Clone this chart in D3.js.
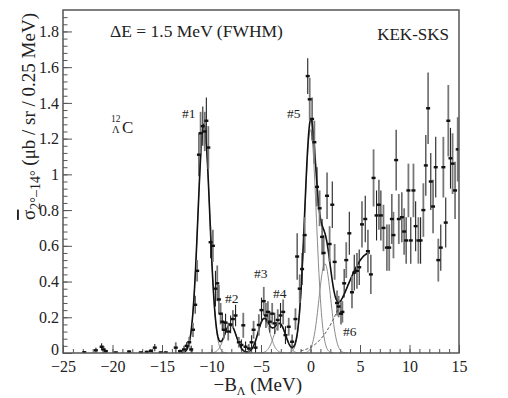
<!DOCTYPE html>
<html>
<head>
<meta charset="utf-8">
<script src="https://cdn.jsdelivr.net/npm/d3@7"></script>
<style>
  body { margin: 0; background: #fff; }
  svg text { font-family: "Liberation Serif", "Times New Roman", Times, serif !important; fill: #222; }
</style>
</head>
<body>
<script>
// -B_Lambda (MeV) of each data point
const energy = [
  -22.85, -21.68, -21.10, -20.90, -20.67, -19.66, -18.32, -17.14, -16.54, -16.13,
  -15.73, -15.13, -14.62, -13.61, -13.18, -12.78, -12.51, -12.25, -12.05, -11.87,
  -11.65, -11.45, -11.27, -11.10, -10.88, -10.68, -10.52, -10.32, -10.09, -9.86,
  -9.60, -9.42, -9.25, -9.08, -8.91, -8.75, -8.58, -8.31, -8.07, -7.84,
  -7.57, -7.24, -6.98, -6.79, -6.56, -6.23, -5.95, -5.75, -5.55, -5.22,
  -4.95, -4.72, -4.50, -4.30, -4.11, -3.87, -3.61, -3.31, -3.03, -2.76,
  -2.53, -2.20, -1.86, -1.52, -1.35, -1.09, -0.85, -0.59, -0.28, -0.08,
  0.16, 0.39, 0.66, 0.92, 1.17, 1.33, 1.67, 1.93, 2.20, 2.44,
  2.68, 2.84, 3.08, 3.22, 3.40, 3.61, 3.92, 4.19, 4.42, 4.69,
  4.92, 5.20, 5.53, 5.80, 6.10, 6.37, 6.67, 6.91, 7.11, 7.37,
  7.72, 7.95, 8.22, 8.38, 8.65, 8.92, 9.23, 9.46, 9.66, 9.89,
  10.13, 10.40, 10.62, 10.90, 11.12, 11.40, 11.65, 11.88, 12.15, 12.38,
  12.65, 12.91, 13.16, 13.42, 13.66, 13.92, 14.14, 14.35, 14.60, 14.87
]
// cross section (ub/sr/0.25 MeV)
const sigma = [
  0.004, 0.015, 0.035, 0.020, 0.010, 0.003, 0.008, 0.003, 0.006, 0.012,
  0.030, 0.003, 0.003, 0.030, 0.010, 0.020, 0.040, 0.060, 0.020, 0.130,
  0.27, 0.46, 1.11, 1.23, 1.27, 1.24, 1.30, 1.15, 0.62, 0.60,
  0.36, 0.39, 0.30, 0.22, 0.175, 0.13, 0.17, 0.12, 0.16, 0.19,
  0.21, 0.06, 0.045, 0.155, 0.035, 0.025, 0.06, 0.13, 0.03, 0.157,
  0.24, 0.29, 0.21, 0.23, 0.175, 0.22, 0.166, 0.185, 0.21, 0.23,
  0.10, 0.147, 0.063, 0.19, 0.54, 0.36, 0.47, 0.66, 1.55, 1.42,
  1.31, 1.18, 0.93, 0.81, 0.65, 0.56, 0.88, 0.61, 0.83, 0.51,
  0.28, 0.26, 0.22, 0.23, 0.39, 0.52, 0.67, 0.34, 0.45, 0.46,
  0.48, 0.72, 0.75, 0.57, 0.44, 0.98, 0.77, 0.83, 0.77, 0.70,
  0.59, 0.59, 0.75, 0.66, 1.08, 0.75, 0.76, 0.68, 0.63, 0.91,
  0.63, 0.91, 0.71, 0.63, 0.63, 0.80, 1.05, 1.37, 0.96, 0.82,
  1.04, 0.52, 0.59, 1.04, 0.73, 1.30, 1.09, 1.06, 0.91, 1.14
]
const sigmaErr = [
  0.006, 0.015, 0.020, 0.020, 0.010, 0.005, 0.008, 0.005, 0.006, 0.010,
  0.020, 0.005, 0.005, 0.030, 0.010, 0.020, 0.020, 0.030, 0.020, 0.040,
  0.05, 0.06, 0.12, 0.12, 0.11, 0.11, 0.13, 0.12, 0.09, 0.09,
  0.10, 0.10, 0.08, 0.06, 0.05, 0.05, 0.05, 0.05, 0.05, 0.05,
  0.06, 0.03, 0.03, 0.07, 0.03, 0.025, 0.04, 0.05, 0.03, 0.06,
  0.07, 0.08, 0.07, 0.06, 0.06, 0.06, 0.06, 0.06, 0.07, 0.07,
  0.05, 0.05, 0.04, 0.06, 0.13, 0.08, 0.09, 0.10, 0.10, 0.12,
  0.12, 0.12, 0.11, 0.10, 0.10, 0.10, 0.13, 0.10, 0.13, 0.10,
  0.07, 0.06, 0.06, 0.06, 0.08, 0.10, 0.12, 0.09, 0.10, 0.10,
  0.10, 0.13, 0.13, 0.12, 0.11, 0.16, 0.14, 0.14, 0.14, 0.13,
  0.13, 0.13, 0.14, 0.13, 0.17, 0.14, 0.14, 0.13, 0.13, 0.15,
  0.13, 0.15, 0.14, 0.13, 0.13, 0.15, 0.17, 0.20, 0.16, 0.15,
  0.17, 0.12, 0.13, 0.17, 0.14, 0.20, 0.17, 0.17, 0.16, 0.18
]

// fitted peaks (gaussians); the last one (#6) is the broad dashed one
const peakCenter = [-10.77, -8.1, -4.7, -3.1, 0.0, 1.45, 6.0]
const peakHeight = [1.28, 0.16, 0.19, 0.16, 1.25, 0.5, 0.56]
const peakFwhm = [1.4, 1.4, 1.4, 1.4, 1.4, 1.4, 5.9]
const fitRange = [-13, 6]

const xTicks = [-25, -20, -15, -10, -5, 0, 5, 10, 15]
const yTicks = [0, 0.2, 0.4, 0.6, 0.8, 1, 1.2, 1.4, 1.6, 1.8]

const serif = '"Liberation Serif", "Times New Roman", Times, serif'
const svg = d3.select('body').append('svg').attr('width', 508).attr('height', 398)
  .style('font-family', serif)
const plot = {left: 63, right: 459, top: 10, bottom: 353}

const x = d3.scaleLinear().domain([-25, 15]).range([plot.left, plot.right])
const y = d3.scaleLinear().domain([0, 1.92]).range([plot.bottom, plot.top])

svg.append('defs').append('clipPath').attr('id', 'clip')
  .append('rect')
  .attr('x', plot.left).attr('y', plot.top)
  .attr('width', plot.right - plot.left).attr('height', plot.bottom - plot.top)

// axes, ticks inside the frame like ROOT
const fmt = d => String(+d.toFixed(1))
const yAxis = svg.append('g').attr('transform', `translate(${plot.left},0)`)
  .call(d3.axisLeft(y).tickValues(yTicks).tickSize(-9).tickPadding(4).tickFormat(fmt))
const yMinor = svg.append('g').attr('transform', `translate(${plot.left},0)`)
  .call(d3.axisLeft(y).tickValues(d3.range(0, 1.92, 0.04)).tickSize(-4.5).tickFormat(''))
const xAxis = svg.append('g').attr('transform', `translate(0,${plot.bottom})`)
  .call(d3.axisBottom(x).tickValues(xTicks).tickSize(-8).tickPadding(7.5).tickFormat(d => d < 0 ? '\u2212' + (-d) : d))
const xMinor = svg.append('g').attr('transform', `translate(0,${plot.bottom})`)
  .call(d3.axisBottom(x).tickValues(d3.range(-25, 15.5, 1)).tickSize(-4).tickFormat(''))

;[yAxis, yMinor, xAxis, xMinor].forEach(g => {
  g.attr('font-family', null).attr('font-size', null)
  g.select('.domain').remove()
  g.selectAll('line').attr('stroke', '#555').attr('stroke-width', 1)
  g.selectAll('text').attr('fill', '#222').style('font-size', '16px').style('font-family', serif)
})
// the "0" of the y axis sits a bit above the corner, as in the original
yAxis.selectAll('.tick').filter(d => d === 0).select('text').attr('dy', '0.1em')

// fit curves
const gauss = (i, e) => {
  const s = peakFwhm[i] / 2.3548
  return peakHeight[i] * Math.exp(-((e - peakCenter[i]) ** 2) / (2 * s * s))
}
const line = d3.line().x(d => x(d[0])).y(d => y(d[1]))
const g = svg.append('g').attr('clip-path', 'url(#clip)')

peakCenter.forEach((c, i) => {
  if (i === peakCenter.length - 1) return
  const es = d3.range(c - 2.3, c + 2.3001, 0.05)
  g.append('path').datum(es.map(e => [e, gauss(i, e)]))
    .attr('d', line).attr('fill', 'none').attr('stroke', '#8a8a8a').attr('stroke-width', 1)
})

const last = peakCenter.length - 1
g.append('path')
  .datum(d3.range(-1, fitRange[1] + 0.001, 0.05).map(e => [e, gauss(last, e)]))
  .attr('d', line).attr('fill', 'none').attr('stroke', '#444')
  .attr('stroke-width', 1).attr('stroke-dasharray', '3,2')

g.append('path')
  .datum(d3.range(fitRange[0], fitRange[1] + 0.001, 0.04)
    .map(e => [e, d3.sum(peakCenter, (c, i) => gauss(i, e))]))
  .attr('d', line).attr('fill', 'none').attr('stroke', '#111').attr('stroke-width', 1.6)

// data points with error bars
const pts = energy.map((e, i) => ({e, v: sigma[i], err: sigmaErr[i]}))
g.selectAll('.err').data(pts).enter().append('line')
  .attr('class', 'err')
  .attr('x1', d => x(d.e)).attr('x2', d => x(d.e))
  .attr('y1', d => y(d.v - d.err)).attr('y2', d => y(d.v + d.err))
  .attr('stroke', (d, i) => i % 2 ? '#777' : '#222')
  .attr('stroke-width', (d, i) => i % 2 ? 1.8 : 1.1)
g.selectAll('.pt').data(pts).enter().append('rect')
  .attr('class', 'pt')
  .attr('x', d => x(d.e) - 2).attr('y', d => y(d.v) - 1.2)
  .attr('width', 4).attr('height', 2.4).attr('fill', '#111')

// frame
svg.append('rect')
  .attr('x', plot.left).attr('y', plot.top)
  .attr('width', plot.right - plot.left).attr('height', plot.bottom - plot.top)
  .attr('fill', 'none').attr('stroke', '#555').attr('stroke-width', 1.5)

// texts
svg.append('text').attr('x', 110).attr('y', 37).style('font-size', '17.5px')
  .text('\u0394E = 1.5 MeV (FWHM)')
svg.append('text').attr('x', 449).attr('y', 40).style('font-size', '17px').attr('text-anchor', 'end')
  .text('KEK-SKS')

svg.append('text').attr('x', 111).attr('y', 122).style('font-size', '9.5px').text('12')
svg.append('text').attr('x', 112).attr('y', 133).style('font-size', '10.5px').text('\u039B')
svg.append('text').attr('x', 122).attr('y', 133).style('font-size', '17px').text('C')

const peakLabels = [
  ['#1', 182, 118], ['#2', 225, 303], ['#3', 254, 278],
  ['#4', 273, 298], ['#5', 287, 118], ['#6', 343, 336]
]
peakLabels.forEach(([t, px, py]) => {
  svg.append('text').attr('x', px).attr('y', py).style('font-size', '13.5px').text(t)
})

// axis titles
const xt = svg.append('text').attr('x', 302).attr('y', 391).style('font-size', '19px').attr('text-anchor', 'end')
xt.append('tspan').text('\u2212B')
xt.append('tspan').style('font-size', '12px').attr('dy', 4).text('\u039B')
xt.append('tspan').attr('dy', -4).text(' (MeV)')

const yt = svg.append('text').attr('transform', 'translate(35,13) rotate(-90)')
  .style('font-size', '19px').attr('text-anchor', 'end')
yt.append('tspan').attr('text-decoration', 'overline').text('\u03C3')
yt.append('tspan').style('font-size', '14px').attr('dy', 5).text('2\u00B0\u201314\u00B0')
yt.append('tspan').attr('dy', -5).text(' (\u03BCb / sr / 0.25 MeV)')
</script>
</body>
</html>
